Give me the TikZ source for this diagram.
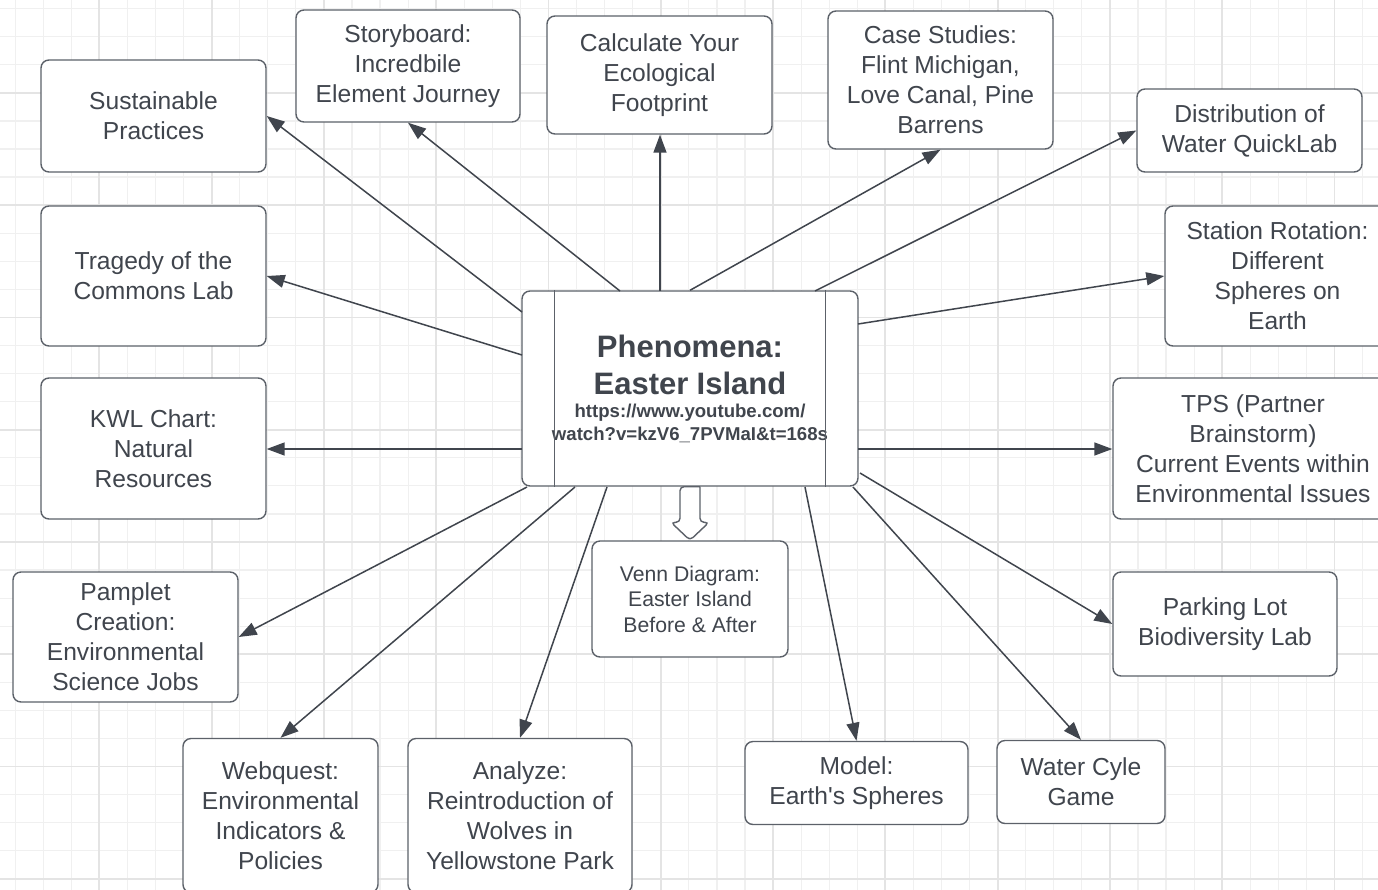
\documentclass[tikz,border=0pt]{standalone}
\usepackage{fontspec}
\setmainfont{Liberation Sans}
\usetikzlibrary{arrows.meta,calc}

\definecolor{gridmin}{HTML}{F0F0F0}
\definecolor{gridmaj}{HTML}{E4E4E4}
\definecolor{edgegray}{HTML}{5C6169}
\definecolor{inkgray}{HTML}{40454D}

\tikzset{
  topic/.style={draw=edgegray, line width=0.7pt, rounded corners=4pt, fill=white,
    align=center, text=inkgray, inner sep=0pt, font=\fontsize{12.3}{15}\selectfont},
  link/.style={draw=inkgray, line width=0.75pt, -{Triangle[length=9pt,width=6.5pt]}},
}

\begin{document}
\begin{tikzpicture}[x=0.5pt,y=-0.5pt]
    \useasboundingbox (0,0) rectangle (1378,890);
    \clip (0,0) rectangle (1378,890);
    \fill[white] (0,0) rectangle (1378,890);

    % background grid
    \foreach \i in {0,...,50}
        \draw[gridmin, line width=0.6pt] ({-12.9+28.07*\i},0) -- ({-12.9+28.07*\i},890);
    \foreach \j in {0,...,32}
        \draw[gridmin, line width=0.6pt] (0,{-19.4+28.07*\j}) -- (1378,{-19.4+28.07*\j});
    \foreach \i in {0,4,...,48}
        \draw[gridmaj, line width=0.9pt] ({-12.9+28.07*\i},0) -- ({-12.9+28.07*\i},890);
    \foreach \j in {0,4,...,32}
        \draw[gridmaj, line width=0.9pt] (0,{-19.4+28.07*\j}) -- (1378,{-19.4+28.07*\j});

    % centre
    \node[topic, minimum width=168pt, minimum height=97.5pt, text width=160pt] (ph) at (690,388.5)
        {\parindent=0pt{\fontsize{15.5}{18.5}\selectfont\bfseries Phenomena:\\Easter Island\par}
         {\fontsize{9.3}{11.5}\selectfont\bfseries https://www.youtube.com/\\watch?v=kzV6\_7PVMaI\&t=168s\par}};
    \draw[edgegray, line width=0.7pt] ($(ph.north west)+(33,0)$) -- ($(ph.south west)+(33,0)$);
    \draw[edgegray, line width=0.7pt] ($(ph.north east)+(-33,0)$) -- ($(ph.south east)+(-33,0)$);

    % activities
    \node[topic, minimum width=112.5pt, minimum height=56pt] (sus) at (153.5,116) {Sustainable\\Practices};
    \node[topic, minimum width=112pt, minimum height=56pt] (sb) at (408,66) {Storyboard:\\Incredbile\\Element Journey};
    \node[topic, minimum width=112.5pt, minimum height=59pt] (cyf) at (659.5,75) {Calculate Your\\Ecological\\Footprint};
    \node[topic, minimum width=112.5pt, minimum height=69pt] (cs) at (940.5,80) {Case Studies:\\Flint Michigan,\\Love Canal, Pine\\Barrens};
    \node[topic, minimum width=112.5pt, minimum height=41.5pt] (dw) at (1249.5,130.5) {Distribution of\\Water QuickLab};
    \node[topic, minimum width=112.5pt, minimum height=70pt] (sr) at (1277.5,276) {Station Rotation:\\Different\\Spheres on\\Earth};
    \node[topic, minimum width=112.5pt, minimum height=70pt] (tc) at (153.5,276) {Tragedy of the\\Commons Lab};
    \node[topic, minimum width=112.5pt, minimum height=70.5pt] (kwl) at (153.5,448.5) {KWL Chart:\\Natural\\Resources};
    \node[topic, minimum width=140pt, minimum height=70.5pt] (tps) at (1253,448.5) {TPS (Partner\\Brainstorm)\\Current Events within\\Environmental Issues};
    \node[topic, minimum width=112.5pt, minimum height=65pt] (pc) at (125.5,637) {Pamplet\\Creation:\\Environmental\\Science Jobs};
    \node[topic, minimum width=112pt, minimum height=52pt] (pl) at (1225,624) {Parking Lot\\Biodiversity Lab};
    \node[topic, minimum width=97.5pt, minimum height=77pt] (wq) at (280.5,815.5) {Webquest:\\Environmental\\Indicators \&\\Policies};
    \node[topic, minimum width=112pt, minimum height=77pt] (an) at (520,815.5) {Analyze:\\Reintroduction of\\Wolves in\\Yellowstone Park};
    \node[topic, minimum width=111.5pt, minimum height=41.5pt] (md) at (856.5,783) {Model:\\Earth\textquotesingle s Spheres};
    \node[topic, minimum width=84pt, minimum height=41.5pt] (wc) at (1081,782) {Water Cyle\\Game};
    \node[topic, minimum width=98pt, minimum height=58pt, font=\fontsize{10.6}{12.75}\selectfont] (vd) at (690,599) {Venn Diagram:\\Easter Island\\Before \& After};

    % start points on the centre box
    \coordinate (c1) at (522,312);
    \coordinate (c2) at (620,291);
    \coordinate (c3) at (660,291);
    \coordinate (c4) at (815,291);
    \coordinate (c5) at (858,324);
    \coordinate (c6) at (522,355);
    \coordinate (c7) at (522,449);
    \coordinate (c8) at (858,449);
    \coordinate (c9) at (527,487);
    \coordinate (c10) at (575,487);
    \coordinate (c11) at (607,487);
    \coordinate (c12) at (805,487);
    \coordinate (c13) at (853,487);
    \coordinate (c14) at (860,473);

    \draw[link] (c1) -- (sus.east);
    \draw[link] (c2) -- (sb.south);
    \draw[link] (c3) -- (c3 |- cyf.south);
    \draw[link] (ph.north) -- (cs.south);
    \draw[link] (c4) -- (dw.west);
    \draw[link] (c5) -- (sr.west);
    \draw[link] (c6) -- (tc.east);
    \draw[link] (c7) -- (c7 -| kwl.east);
    \draw[link] (c8) -- (c8 -| tps.west);
    \draw[link] (c9) -- (pc.east);
    \draw[link] (c10) -- (wq.north);
    \draw[link] (c11) -- (an.north);
    \draw[link] (c12) -- (md.north);
    \draw[link] (c13) -- (wc.north);
    \draw[link] (c14) -- (pl.west);

    % hollow arrow to the Venn diagram
    \draw[edgegray, line width=0.7pt, fill=white, rounded corners=2pt]
        ($(ph.south)+(10,0)$) -- ($(ph.south)+(-10,0)$) -- ($(vd.north)+(-10,-18)$) -- ($(vd.north)+(-19,-18)$)
        -- (vd.north) -- ($(vd.north)+(19,-18)$) -- ($(vd.north)+(10,-18)$) -- ($(ph.south)+(10,0)$);
\end{tikzpicture}
\end{document}
